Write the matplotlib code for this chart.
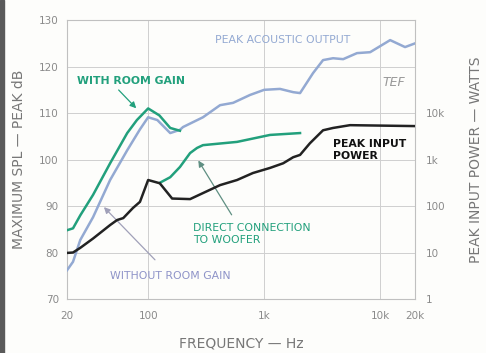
import numpy as np
import matplotlib
matplotlib.use('Agg')
import matplotlib.pyplot as plt
from matplotlib.ticker import FixedLocator, NullFormatter

# peak acoustic output (dB)
f_out = [20, 22.5, 26, 33.5, 47, 66, 85, 100, 120, 155, 188, 200, 297, 417, 540,
         756, 1000, 1370, 1780, 2040, 2640, 3220, 3930, 4800, 6320, 8200, 12200, 16400, 20000]
spl_out = [76.2, 78, 82.7, 87.6, 95.6, 102, 106.5, 109.1, 108.5, 105.7, 106.4, 107, 109.1, 111.7, 112.2,
           113.9, 115, 115.2, 114.5, 114.3, 118.6, 121.4, 121.8, 121.6, 122.9, 123.1, 125.7, 124.2, 125]

# with room gain (dB)
f_room = [20, 22.5, 26, 33.5, 47, 66, 80, 100, 125, 155, 188]
spl_room = [84.8, 85.2, 88, 92.4, 99.2, 105.7, 108.5, 111, 109.5, 106.8, 106.2]

# direct connection to woofer (dB)
f_direct = [126, 155, 188, 230, 264, 297, 584, 1125, 2040]
spl_direct = [95, 96.2, 98.4, 101.4, 102.5, 103.1, 103.8, 105.3, 105.7]

# peak input power (watts)
f_pow = [20, 22.5, 26, 33.5, 47, 54, 61, 74, 85, 100, 126, 161, 230, 297, 417,
         584, 800, 1125, 1460, 1780, 2040, 2480, 3220, 3930, 5500, 20000]
watts = [9.8, 10, 12.6, 20, 39, 50, 55, 91, 123, 363, 309, 145, 141, 190, 282,
         363, 513, 661, 832, 1122, 1259, 2239, 4266, 4786, 5495, 5248]

x_ticks = [20, 100, 1000, 10000, 20000]
x_labels = ['20', '100', '1k', '10k', '20k']
w_ticks = [1, 10, 100, 1000, 10000]
w_labels = ['1', '10', '100', '1k', '10k']

grey = '#8a8a8a'
teal = '#22a07c'
blue = '#93a9d2'
lav = '#8e93c8'

fig = plt.figure(figsize=(4.86, 3.53), dpi=100)
fig.patch.set_facecolor('#fdfdfb')
fig.patches.append(plt.Rectangle((0, 0), 0.009, 1, transform=fig.transFigure,
                                 color='#5a5a5a', zorder=0))
ax = fig.add_axes([0.138, 0.153, 0.716, 0.790])
ax.set_facecolor('#fdfdfb')
ax.set_xscale('log')
ax.set_xlim(20, 20000)
ax.set_ylim(70, 130)

minor = [m * 10**e for e in range(1, 5) for m in range(2, 10)]
minor = [v for v in minor if 20 <= v <= 20000]
ax.xaxis.set_major_locator(FixedLocator(x_ticks))
ax.xaxis.set_minor_locator(FixedLocator(minor))
ax.xaxis.set_minor_formatter(NullFormatter())
ax.set_xticklabels(x_labels)
ax.set_yticks(range(70, 131, 10))
ax.grid(True, which='both', axis='x', color='#cfcfcf', lw=0.7)
ax.grid(True, which='major', axis='y', color='#cfcfcf', lw=0.7)
ax.tick_params(which='both', length=0, colors=grey, labelsize=7.5, pad=6)
ax.tick_params(axis='x', pad=9)
for s in ax.spines.values():
    s.set_color('#c0c0c0')
    s.set_linewidth(0.8)

ax.plot(f_out, spl_out, color=blue, lw=1.8, zorder=3)
ax.plot(f_room, spl_room, color=teal, lw=1.8, zorder=4)
ax.plot(f_direct, spl_direct, color=teal, lw=1.8, zorder=4)

ax2 = ax.twinx()
ax2.set_yscale('log')
ax2.set_ylim(1, 1e6)
ax2.set_yticks(w_ticks)
ax2.set_yticklabels(w_labels)
ax2.minorticks_off()
ax2.tick_params(length=0, colors=grey, labelsize=7.5, pad=8)
for s in ax2.spines.values():
    s.set_visible(False)
ax2.plot(f_pow, watts, color='#222222', lw=1.8, zorder=5)

ax.set_xlabel('FREQUENCY — Hz', color='#777777', fontsize=10, labelpad=11)
ax.set_ylabel('MAXIMUM SPL — PEAK dB', color='#777777', fontsize=10, labelpad=9)
ax2.set_ylabel('PEAK INPUT POWER — WATTS', color='#777777', fontsize=10, labelpad=17)

# annotations
ax.text(377, 125.7, 'PEAK ACOUSTIC OUTPUT', color=blue, fontsize=7.8, va='center')
ax.text(10400, 116.5, 'TEF', color='#999999', fontsize=9, style='italic', va='center')
ax.text(24.4, 116.9, 'WITH ROOM GAIN', color=teal, fontsize=7.8, fontweight='semibold', va='center')
ax.annotate('', xy=(82, 110.6), xytext=(53.6, 115.4),
            arrowprops=dict(arrowstyle='-|>', color=teal, lw=0.9, mutation_scale=9))
ax.text(3930, 102.1, 'PEAK INPUT\nPOWER', color='#111111', fontsize=7.8,
        fontweight='bold', va='center', linespacing=1.2)
ax.text(244, 84, 'DIRECT CONNECTION\nTO WOOFER', color=teal, fontsize=7.8,
        va='center', linespacing=1.2)
ax.annotate('', xy=(263, 100.3), xytext=(540, 87.6),
            arrowprops=dict(arrowstyle='-|>', color='#5f8f82', lw=0.9, mutation_scale=9))
ax.text(47, 74.9, 'WITHOUT ROOM GAIN', color=lav, fontsize=7.8, va='center')
ax.annotate('', xy=(40, 90.2), xytext=(119, 78),
            arrowprops=dict(arrowstyle='-|>', color='#a0a0b8', lw=0.9, mutation_scale=9))

plt.savefig('out.png', dpi=100)
